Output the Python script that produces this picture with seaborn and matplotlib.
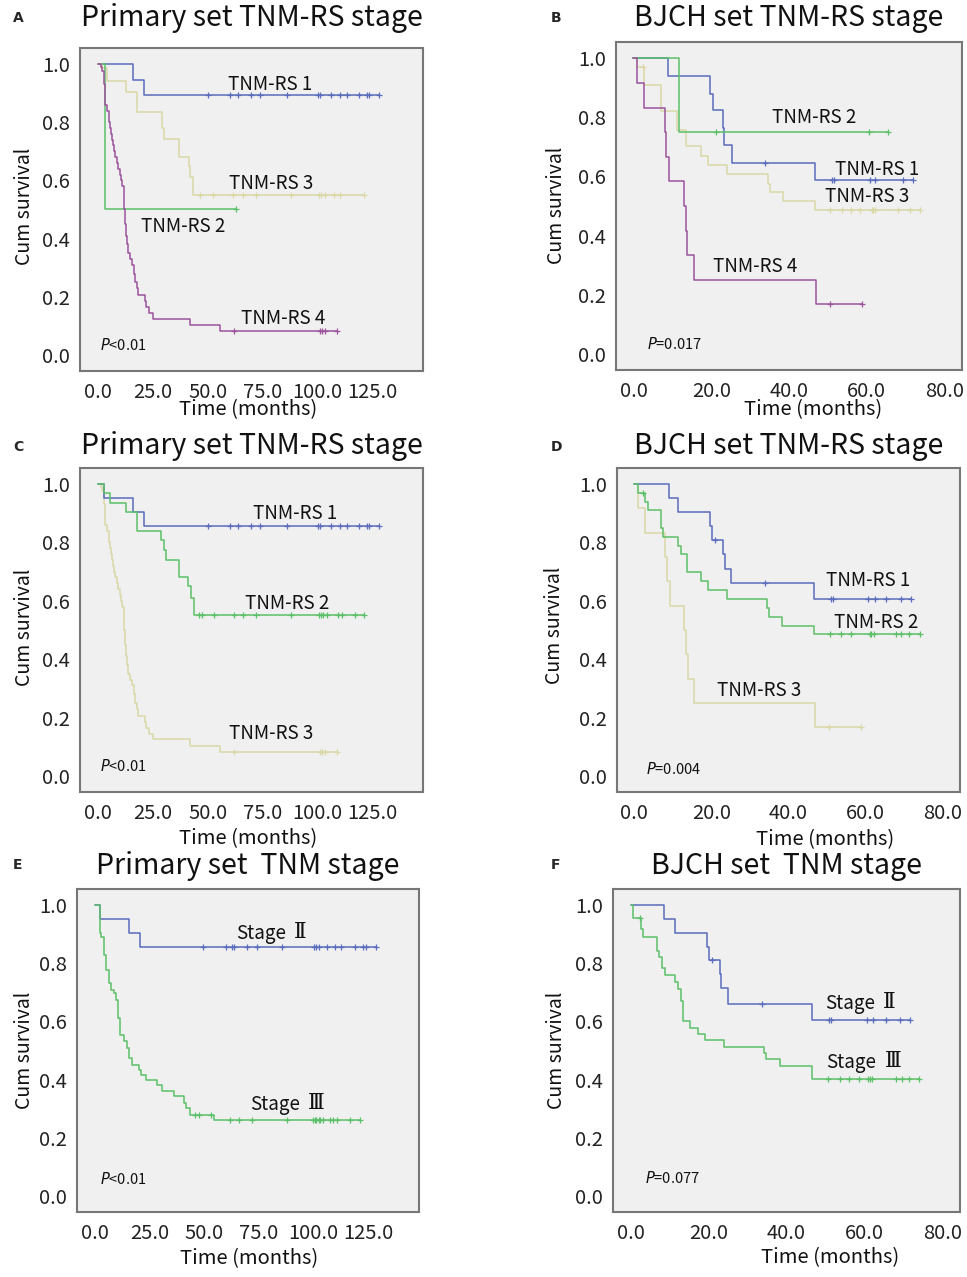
import numpy as np
import pandas as pd
import matplotlib
matplotlib.use("Agg")
import matplotlib.pyplot as plt
import seaborn as sns

# ---- data (time in months, cumulative survival) ----
# Panel A: primary set, TNM-RS stage
a_rs1_time = [16.0, 21.2]
a_rs1_surv = [0.945, 0.893]
a_rs1_cens = [50, 60, 64, 69.8, 74, 86, 100.2, 101.2, 106.2, 110.3, 113.3, 119, 122.4, 123.6, 128]

a_rs3_time = [2.0, 4.5, 13.0, 18.0, 29.4, 30.3, 36.8, 41.4, 42.0, 43.6]
a_rs3_surv = [0.985, 0.94, 0.905, 0.836, 0.781, 0.742, 0.68, 0.65, 0.61, 0.55]
a_rs3_cens = [46.4, 52.7, 61.8, 66, 72, 88, 100.5, 101.5, 103.5, 107.3, 110.3, 121]

a_rs2_time = [3.2]
a_rs2_surv = [0.5]
a_rs2_cens = [63]

a_rs4_time = [1.5, 2.0, 2.7, 3.0, 3.3, 4.5, 5.0, 5.5, 6.0, 6.5, 7.0, 7.5, 8.0, 8.7, 9.3,
              10.0, 10.5, 11.0, 11.8, 12.2, 12.6, 13.0, 13.5, 14.0, 14.8, 15.5, 16.5,
              17.0, 18.0, 18.5, 21.5, 22.0, 23.5, 25.0, 42.0, 55.5]
a_rs4_surv = [0.99, 0.975, 0.96, 0.93, 0.86, 0.84, 0.80, 0.78, 0.76, 0.74, 0.72, 0.70,
              0.68, 0.66, 0.64, 0.62, 0.60, 0.58, 0.56, 0.50, 0.45, 0.41, 0.38, 0.35,
              0.33, 0.31, 0.28, 0.25, 0.23, 0.205, 0.185, 0.165, 0.145, 0.125, 0.103, 0.082]
a_rs4_cens = [62, 101, 102, 103.5, 109]

# Panel B: BJCH set, TNM-RS stage
b_rs2_time = [11.7]
b_rs2_surv = [0.75]
b_rs2_cens = [21.1, 60.6, 65.5]

b_rs1_time = [9.0, 19.8, 20.4, 23.1, 23.4, 25.4, 46.6]
b_rs1_surv = [0.94, 0.88, 0.824, 0.765, 0.706, 0.647, 0.588]
b_rs1_cens = [33.9, 51, 51.5, 60.9, 62.1, 69.4, 72]

b_rs3_time = [1.0, 2.7, 7.0, 11.3, 13.4, 17.3, 19.2, 24.1, 34.5, 35.0, 38.5, 46.6]
b_rs3_surv = [0.97, 0.908, 0.82, 0.757, 0.703, 0.669, 0.638, 0.607, 0.573, 0.547, 0.516, 0.488]
b_rs3_cens = [2.5, 50.6, 53.6, 55.9, 58.3, 61.3, 61.7, 62.1, 68.1, 71.1, 73.7]

b_rs4_time = [0.9, 2.7, 8.0, 8.4, 9.2, 13.0, 13.4, 13.8, 15.6, 46.9]
b_rs4_surv = [0.917, 0.833, 0.75, 0.667, 0.583, 0.5, 0.417, 0.333, 0.25, 0.167]
b_rs4_cens = [50.6, 58.7]

# Panel C: primary set, TNM-RS stage (3 groups)
c_rs1_time = [3.0, 16.0, 21.2]
c_rs1_surv = [0.952, 0.905, 0.857]
c_rs1_cens = a_rs1_cens

c_rs2_time = [3.0, 5.8, 13.0, 17.9, 29.0, 30.0, 31.0, 37.0, 41.0, 42.4, 44.0]
c_rs2_surv = [0.97, 0.935, 0.905, 0.84, 0.81, 0.775, 0.74, 0.68, 0.65, 0.61, 0.55]
c_rs2_cens = [45.9, 47.7, 53, 62, 66, 72, 88, 100.5, 101.5, 102.7, 104.2, 109.5, 111, 117, 121]

c_rs3_time = a_rs4_time
c_rs3_surv = a_rs4_surv
c_rs3_cens = a_rs4_cens

# Panel D: BJCH set, TNM-RS stage (3 groups)
d_rs1_time = [8.9, 11.4, 19.7, 20.2, 23.0, 23.4, 25.2, 46.6]
d_rs1_surv = [0.952, 0.905, 0.857, 0.81, 0.762, 0.71, 0.66, 0.605]
d_rs1_cens = [21, 33.8, 51.1, 51.6, 60.7, 62.4, 65.4, 69.3, 71.9]

d_rs2_time = [0.9, 2.8, 3.5, 6.9, 7.5, 11.4, 12.2, 13.6, 17.2, 19.2, 24.0, 34.4, 34.9, 38.4, 46.6]
d_rs2_surv = [0.971, 0.94, 0.91, 0.85, 0.82, 0.787, 0.759, 0.699, 0.667, 0.638, 0.607,
              0.577, 0.546, 0.515, 0.485]
d_rs2_cens = [2.3, 50.7, 53.7, 56.1, 61.1, 61.5, 62.1, 68, 69.3, 71.3, 74.1]

d_rs3_time = b_rs4_time
d_rs3_surv = b_rs4_surv
d_rs3_cens = b_rs4_cens

# Panel E: primary set, TNM stage
e_st2_time = [2.6, 15.5, 20.8]
e_st2_surv = [0.952, 0.905, 0.857]
e_st2_cens = [49.6, 60, 62.8, 63.7, 69.6, 73.9, 85.7, 100, 101.2, 102.3, 106, 109.5,
              112.6, 119, 122.5, 124, 128.2]

e_st3_time = [2.3, 3.1, 4.3, 5.2, 6.4, 7.6, 8.8, 9.9, 10.6, 11.8, 13.3, 14.8, 15.9, 17.1,
              20.1, 21.2, 23.5, 28.5, 30.6, 36.4, 40.6, 41.7, 43.6, 54.6]
e_st3_surv = [0.903, 0.891, 0.829, 0.777, 0.731, 0.709, 0.697, 0.674, 0.611, 0.554, 0.531,
              0.509, 0.474, 0.451, 0.434, 0.417, 0.40, 0.383, 0.362, 0.343, 0.32, 0.303,
              0.278, 0.262]
e_st3_cens = [45.8, 47.6, 53, 61.8, 66, 72, 87.9, 99.7, 100.4, 101.2, 102.3, 103, 104,
              107.3, 108.8, 110.6, 116.7, 121]

# Panel F: BJCH set, TNM stage
f_st2_time = [8.7, 11.4, 19.6, 20.2, 22.9, 23.3, 25.1, 46.6]
f_st2_surv = [0.952, 0.905, 0.857, 0.81, 0.762, 0.714, 0.66, 0.605]
f_st2_cens = [21, 33.7, 51, 51.5, 60.6, 62.2, 65.4, 69.2, 71.8]

f_st3_time = [0.7, 2.7, 3.2, 6.7, 7.3, 8.0, 8.8, 11.4, 12.2, 12.9, 13.5, 15.2, 17.3, 19.1,
              24.0, 34.3, 34.7, 38.4, 46.6]
f_st3_surv = [0.956, 0.916, 0.89, 0.842, 0.82, 0.782, 0.758, 0.735, 0.71, 0.67, 0.601,
              0.578, 0.556, 0.535, 0.513, 0.493, 0.47, 0.447, 0.401]
f_st3_cens = [2.4, 50.6, 53.6, 56, 58.6, 60.9, 61.3, 62, 68, 69.5, 71.4, 74]

p_labels = ["P<0.01", "P=0.017", "P<0.01", "P=0.004", "P<0.01", "P=0.077"]

BLUE = "#5a6cbc"
GREEN = "#5cc069"
TAN = "#d9d8a6"
PURPLE = "#9c539c"

sns.set_style("white")
plt.rcParams["font.family"] = ["Noto Sans CJK SC", "DejaVu Sans"]

W, H = 967, 1277
fig = plt.figure(figsize=(W / 100, H / 100), dpi=100)


def px_axes(l, t, r, b):
    return fig.add_axes([l / W, 1 - b / H, (r - l) / W, (b - t) / H])


def draw_km(ax, times, surv, cens, color):
    end = max(cens + times)
    tt = [0.0] + list(times) + [end]
    ss = [1.0] + list(surv) + [surv[-1]]
    df = pd.DataFrame({"time": tt, "surv": ss})
    sns.lineplot(data=df, x="time", y="surv", ax=ax, color=color, linewidth=1.1,
                 drawstyle="steps-post", estimator=None, sort=False)
    steps = np.array([1.0] + list(surv))
    idx = np.searchsorted(np.array(times), np.array(cens), side="right")
    ax.plot(cens, steps[idx], ls="none", marker="+", ms=4.5, mew=0.9, color=color)


def style_axes(ax, ticks, xlim):
    ax.set_facecolor("#f0f0f0")
    ax.set_xlim(*xlim)
    ax.set_ylim(-0.055, 1.055)
    ax.set_xticks(ticks)
    ax.set_xticklabels([f"{v:.1f}" for v in ticks])
    ax.set_yticks([0, 0.2, 0.4, 0.6, 0.8, 1.0])
    ax.set_yticklabels(["0.0", "0.2", "0.4", "0.6", "0.8", "1.0"])
    ax.tick_params(axis="both", direction="out", length=4, width=1, color="#555555",
                   labelsize=14.5, labelcolor="#222222")
    ax.tick_params(axis="x", pad=4)
    ax.tick_params(axis="y", pad=3)
    for sp in ax.spines.values():
        sp.set_color("#777777")
        sp.set_linewidth(1.5)
    ax.set_xlabel("")
    ax.set_ylabel("")


prim_ticks = [0, 25, 50, 75, 100, 125]
bjch_ticks = [0, 20, 40, 60, 80]
prim_lim = (-8, 148)
bjch_lim = (-4.5, 84.5)

panels = [
    # letter, rect, title, title y, letter xy, xlabel xy, ylabel xy
    ("A", (80, 48, 423, 371), "Primary set TNM-RS stage", 18, (18, 18), (248, 410), (25, 206)),
    ("B", (616, 42, 962, 370), "BJCH set TNM-RS stage", 18, (556, 18), (813, 410), (556, 205)),
    ("C", (80, 468, 423, 792), "Primary set TNM-RS stage", 446, (18, 447), (248, 839), (25, 627)),
    ("D", (617, 468, 960, 792), "BJCH set TNM-RS stage", 446, (556, 447), (825, 840), (555, 625)),
    ("E", (77, 889, 419, 1212), "Primary set  TNM stage", 866, (17, 865), (249, 1259), (25, 1050)),
    ("F", (613, 889, 960, 1212), "BJCH set  TNM stage", 866, (555, 865), (830, 1258), (556, 1050)),
]

curves = {
    "A": [(a_rs1_time, a_rs1_surv, a_rs1_cens, BLUE), (a_rs3_time, a_rs3_surv, a_rs3_cens, TAN),
          (a_rs2_time, a_rs2_surv, a_rs2_cens, GREEN), (a_rs4_time, a_rs4_surv, a_rs4_cens, PURPLE)],
    "B": [(b_rs3_time, b_rs3_surv, b_rs3_cens, TAN), (b_rs1_time, b_rs1_surv, b_rs1_cens, BLUE),
          (b_rs2_time, b_rs2_surv, b_rs2_cens, GREEN), (b_rs4_time, b_rs4_surv, b_rs4_cens, PURPLE)],
    "C": [(c_rs3_time, c_rs3_surv, c_rs3_cens, TAN), (c_rs1_time, c_rs1_surv, c_rs1_cens, BLUE),
          (c_rs2_time, c_rs2_surv, c_rs2_cens, GREEN)],
    "D": [(d_rs3_time, d_rs3_surv, d_rs3_cens, TAN), (d_rs1_time, d_rs1_surv, d_rs1_cens, BLUE),
          (d_rs2_time, d_rs2_surv, d_rs2_cens, GREEN)],
    "E": [(e_st2_time, e_st2_surv, e_st2_cens, BLUE), (e_st3_time, e_st3_surv, e_st3_cens, GREEN)],
    "F": [(f_st2_time, f_st2_surv, f_st2_cens, BLUE), (f_st3_time, f_st3_surv, f_st3_cens, GREEN)],
}

labels = {
    "A": [("TNM-RS 1", 78.5, 0.928), ("TNM-RS 3", 79, 0.59), ("TNM-RS 2", 39, 0.44), ("TNM-RS 4", 84.5, 0.126)],
    "B": [("TNM-RS 2", 46.6, 0.80), ("TNM-RS 1", 62.6, 0.624), ("TNM-RS 3", 60, 0.531), ("TNM-RS 4", 31.4, 0.296)],
    "C": [("TNM-RS 1", 89.8, 0.899), ("TNM-RS 2", 86.4, 0.59), ("TNM-RS 3", 79, 0.144)],
    "D": [("TNM-RS 1", 60.7, 0.669), ("TNM-RS 2", 62.7, 0.526), ("TNM-RS 3", 32.3, 0.293)],
}

# stage labels: word and roman numeral (serif glyph) drawn separately
stage_labels = {
    "E": [("Stage", "Ⅱ", 85.5, 0.903), ("Stage", "Ⅲ", 91.9, 0.314)],
    "F": [("Stage", "Ⅱ", 61.6, 0.662), ("Stage", "Ⅲ", 62, 0.458)],
}

p_pos = {"A": (0.9, 0.034), "B": (3.4, 0.034), "C": (0.9, 0.034),
         "D": (2.9, 0.025), "E": (2.3, 0.057), "F": (3.7, 0.063)}

for i, (letter, rect, title, ty, lxy, xlxy, ylxy) in enumerate(panels):
    ax = px_axes(*rect)
    primary = letter in "ACE"
    for t, s, c, col in curves[letter]:
        draw_km(ax, t, s, c, col)
    style_axes(ax, prim_ticks if primary else bjch_ticks, prim_lim if primary else bjch_lim)
    for txt, x, y in labels.get(letter, []):
        ax.text(x, y, txt, fontsize=13.5, ha="center", va="center", color="#111111")
    xspan = ax.get_xlim()[1] - ax.get_xlim()[0]
    for word, num, x, y in stage_labels.get(letter, []):
        gap = xspan * 0.012
        ax.text(x + gap, y, word, fontsize=13.5, ha="right", va="center", color="#111111")
        ax.text(x + 3 * gap, y + 0.005, num, fontsize=15.5, ha="left", va="center",
                color="#111111", family=["DejaVu Serif", "Noto Sans CJK SC"])
    px_, py_ = p_pos[letter]
    p = p_labels[i]
    ax.text(px_, py_, "$P$" + p[1:], fontsize=10.5, ha="left", va="center", color="#111111")
    cx = (rect[0] + rect[2]) / 2
    fig.text(cx / W, 1 - ty / H, title, fontsize=20.5, ha="center", va="center",
             color="#111111")
    fig.text(lxy[0] / W, 1 - lxy[1] / H, letter, fontsize=10, fontweight="bold",
             ha="center", va="center", family="DejaVu Sans")
    fig.text(xlxy[0] / W, 1 - xlxy[1] / H, "Time (months)", fontsize=14.5,
             ha="center", va="center", color="#111111")
    fig.text(ylxy[0] / W, 1 - ylxy[1] / H, "Cum survival", fontsize=14, rotation=90,
             ha="center", va="center", color="#111111")

fig.savefig("out.png", dpi=100, facecolor="white")
